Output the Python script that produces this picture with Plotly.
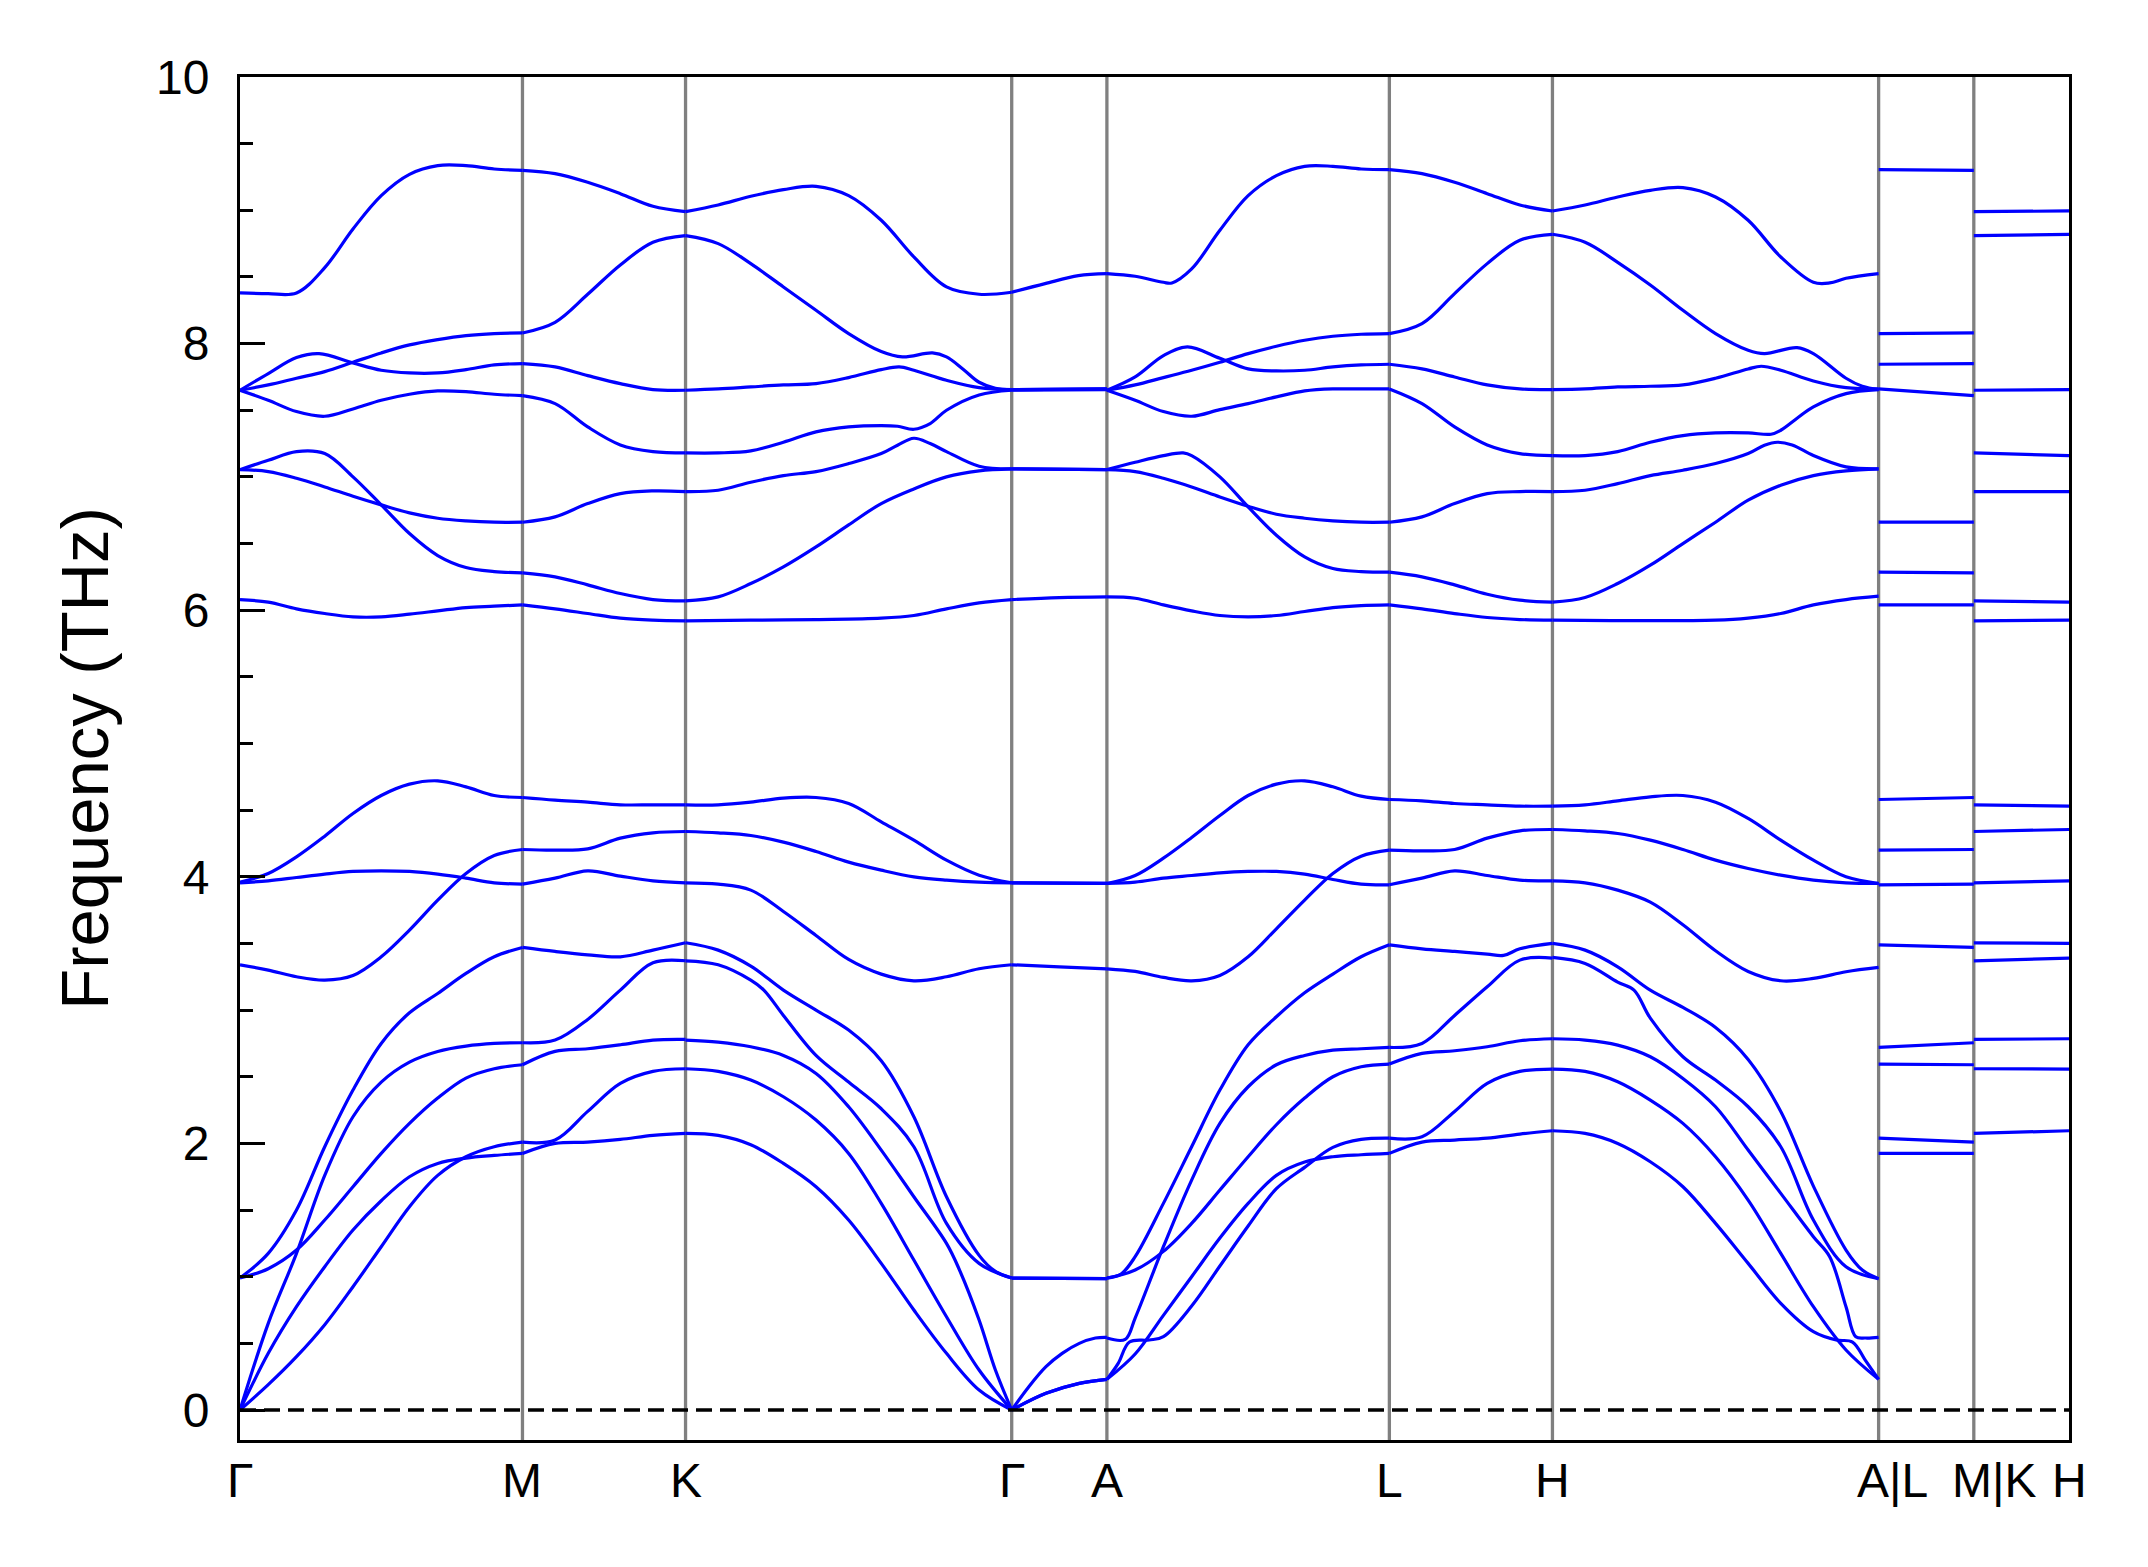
import plotly.graph_objects as go

# ---------------- k-path ----------------
PATH_LABELS = ["Γ", "M", "K", "Γ", "A", "L", "H", "A|L", "M|K", "H"]
# small horizontal nudges of the crowded right-hand labels (px)
LABEL_SHIFT = [0, 0, 0, 0, 0, 0, 0, 14, 20, 0]
# segment lengths (reciprocal-space distance, Γ-M = 1)
SEG_NAMES = ["Γ-M", "M-K", "K-Γ", "Γ-A", "A-L", "L-H", "H-A", "L-M", "K-H"]
SEG_LENGTHS = [1.0, 0.57735, 1.1547, 0.337, 1.0, 0.57735, 1.1547, 0.337, 0.337]

# ---------------- band data: [t along segment, frequency THz] ----------------
GM = [
    [[0, 8.38], [.1, 8.375], [.2, 8.38], [.3, 8.57], [.4, 8.86], [.5, 9.11], [.6, 9.27], [.7, 9.335], [.8, 9.335], [.9, 9.31], [1, 9.30]],
    [[0, 7.65], [.1, 7.69], [.2, 7.74], [.3, 7.79], [.4, 7.86], [.5, 7.93], [.6, 7.99], [.7, 8.03], [.8, 8.06], [.9, 8.075], [1, 8.08]],
    [[0, 7.65], [.1, 7.775], [.2, 7.895], [.28, 7.925], [.4, 7.855], [.5, 7.80], [.6, 7.78], [.7, 7.78], [.8, 7.805], [.9, 7.84], [1, 7.85]],
    [[0, 7.65], [.1, 7.575], [.2, 7.49], [.3, 7.455], [.4, 7.51], [.5, 7.575], [.6, 7.62], [.7, 7.645], [.8, 7.64], [.9, 7.62], [1, 7.61]],
    [[0, 7.055], [.1, 7.125], [.2, 7.19], [.3, 7.175], [.4, 7.0], [.5, 6.79], [.6, 6.575], [.7, 6.41], [.8, 6.32], [.9, 6.29], [1, 6.28]],
    [[0, 7.055], [.1, 7.04], [.2, 6.99], [.3, 6.925], [.4, 6.855], [.5, 6.79], [.6, 6.73], [.7, 6.69], [.8, 6.67], [.9, 6.66], [1, 6.66]],
    [[0, 6.08], [.1, 6.06], [.2, 6.01], [.3, 5.975], [.4, 5.95], [.5, 5.95], [.6, 5.97], [.7, 5.995], [.8, 6.02], [.9, 6.03], [1, 6.04]],
    [[0, 3.96], [.1, 4.025], [.2, 4.15], [.3, 4.305], [.4, 4.475], [.5, 4.61], [.6, 4.695], [.7, 4.72], [.8, 4.675], [.9, 4.61], [1, 4.595]],
    [[0, 3.955], [.1, 3.97], [.2, 3.995], [.3, 4.02], [.4, 4.04], [.5, 4.045], [.6, 4.04], [.7, 4.02], [.8, 3.99], [.9, 3.955], [1, 3.945]],
    [[0, 3.34], [.1, 3.30], [.2, 3.25], [.3, 3.225], [.4, 3.26], [.5, 3.40], [.6, 3.60], [.7, 3.825], [.8, 4.025], [.9, 4.16], [1, 4.205]],
    [[0, 0.99], [.1, 1.175], [.2, 1.5], [.3, 1.975], [.4, 2.4], [.5, 2.75], [.6, 2.98], [.7, 3.125], [.8, 3.275], [.9, 3.40], [1, 3.47]],
    [[0, 0.99], [.1, 1.06], [.2, 1.2], [.3, 1.425], [.4, 1.675], [.5, 1.925], [.6, 2.15], [.7, 2.34], [.8, 2.49], [.9, 2.56], [1, 2.59]],
    [[0, 0.0], [.1, 0.65], [.2, 1.175], [.3, 1.76], [.4, 2.2], [.5, 2.46], [.6, 2.61], [.7, 2.69], [.8, 2.73], [.9, 2.75], [1, 2.755]],
    [[0, 0.0], [.1, 0.425], [.2, 0.775], [.3, 1.075], [.4, 1.35], [.5, 1.57], [.6, 1.75], [.7, 1.85], [.8, 1.89], [.9, 1.91], [1, 1.925]],
    [[0, 0.0], [.1, 0.19], [.2, 0.4], [.3, 0.64], [.4, 0.925], [.5, 1.225], [.6, 1.525], [.7, 1.76], [.8, 1.9], [.9, 1.975], [1, 2.01]],
]

MK = [
    [[0, 9.30], [.2, 9.275], [.4, 9.21], [.6, 9.125], [.8, 9.03], [1, 8.99]],
    [[0, 8.08], [.2, 8.16], [.4, 8.37], [.6, 8.59], [.8, 8.76], [1, 8.81]],
    [[0, 7.85], [.2, 7.825], [.4, 7.76], [.6, 7.70], [.8, 7.655], [1, 7.65]],
    [[0, 7.61], [.2, 7.55], [.4, 7.375], [.6, 7.24], [.8, 7.19], [1, 7.18]],
    [[0, 6.28], [.2, 6.25], [.4, 6.19], [.6, 6.125], [.8, 6.08], [1, 6.07]],
    [[0, 6.66], [.2, 6.70], [.4, 6.80], [.6, 6.875], [.8, 6.895], [1, 6.89]],
    [[0, 6.04], [.2, 6.01], [.4, 5.975], [.6, 5.94], [.8, 5.925], [1, 5.92]],
    [[0, 4.595], [.2, 4.575], [.4, 4.56], [.6, 4.54], [.8, 4.54], [1, 4.54]],
    [[0, 3.945], [.2, 3.99], [.4, 4.045], [.6, 4.005], [.8, 3.97], [1, 3.955]],
    [[0, 4.205], [.2, 4.2], [.4, 4.21], [.6, 4.29], [.8, 4.33], [1, 4.34]],
    [[0, 3.47], [.2, 3.44], [.4, 3.415], [.6, 3.40], [.8, 3.45], [1, 3.505]],
    [[0, 2.59], [.2, 2.69], [.4, 2.71], [.6, 2.74], [.8, 2.775], [1, 2.78]],
    [[0, 2.755], [.2, 2.775], [.4, 2.93], [.6, 3.15], [.8, 3.355], [1, 3.37]],
    [[0, 1.925], [.2, 2.0], [.4, 2.01], [.6, 2.03], [.8, 2.06], [1, 2.075]],
    [[0, 2.01], [.2, 2.025], [.4, 2.24], [.6, 2.45], [.8, 2.54], [1, 2.56]],
]

KG = [
    [[0, 8.99], [.1, 9.04], [.2, 9.105], [.3, 9.155], [.4, 9.18], [.5, 9.11], [.6, 8.925], [.7, 8.65], [.8, 8.425], [.9, 8.37], [1, 8.385]],
    [[0, 8.81], [.1, 8.75], [.2, 8.60], [.3, 8.425], [.4, 8.25], [.5, 8.075], [.6, 7.94], [.665, 7.90], [.757, 7.93], [.8, 7.90], [.85, 7.81], [.9, 7.71], [.95, 7.665], [1, 7.655]],
    [[0, 7.65], [.1, 7.66], [.2, 7.675], [.3, 7.69], [.4, 7.70], [.5, 7.745], [.6, 7.805], [.655, 7.825], [.7, 7.80], [.8, 7.725], [.9, 7.67], [1, 7.655]],
    [[0, 7.18], [.1, 7.18], [.2, 7.195], [.3, 7.26], [.4, 7.3375], [.5, 7.375], [.6, 7.385], [.65, 7.38], [.7, 7.3575], [.75, 7.40], [.8, 7.50], [.9, 7.615], [1, 7.65]],
    [[0, 6.07], [.1, 6.10], [.2, 6.20], [.3, 6.325], [.4, 6.475], [.5, 6.64], [.6, 6.80], [.7, 6.91], [.8, 7.0], [.9, 7.045], [1, 7.06]],
    [[0, 6.89], [.1, 6.90], [.2, 6.96], [.3, 7.01], [.4, 7.04], [.5, 7.10], [.6, 7.175], [.65, 7.2375], [.7, 7.29], [.75, 7.25], [.8, 7.19], [.9, 7.08], [1, 7.06]],
    [[0, 5.92], [.2, 5.925], [.4, 5.93], [.6, 5.94], [.7, 5.96], [.8, 6.01], [.9, 6.055], [1, 6.08]],
    [[0, 4.54], [.1, 4.54], [.2, 4.56], [.3, 4.59], [.4, 4.595], [.5, 4.55], [.6, 4.4125], [.7, 4.275], [.8, 4.125], [.9, 4.0125], [1, 3.955]],
    [[0, 3.955], [.1, 3.945], [.2, 3.90], [.3, 3.74], [.4, 3.56], [.5, 3.38], [.6, 3.27], [.7, 3.22], [.8, 3.25], [.9, 3.31], [1, 3.34]],
    [[0, 4.34], [.1, 4.33], [.2, 4.31], [.3, 4.26], [.4, 4.19], [.5, 4.11], [.6, 4.05], [.7, 4.0], [.8, 3.975], [.9, 3.96], [1, 3.955]],
    [[0, 3.505], [.1, 3.45], [.2, 3.33], [.3, 3.15], [.4, 3.0], [.5, 2.85], [.6, 2.62], [.7, 2.2], [.8, 1.6], [.9, 1.16], [.95, 1.04], [1, 0.99]],
    [[0, 2.775], [.1, 2.76], [.2, 2.725], [.3, 2.66], [.4, 2.525], [.5, 2.275], [.6, 1.95], [.7, 1.6], [.8, 1.25], [.84, 1.05], [.9, 0.675], [.95, 0.3], [1, 0.0]],
    [[0, 3.37], [.1, 3.34], [.2, 3.225], [.24, 3.15], [.3, 2.96], [.4, 2.66], [.5, 2.46], [.6, 2.26], [.7, 1.975], [.8, 1.4], [.9, 1.1], [1, 0.99]],
    [[0, 2.075], [.1, 2.06], [.2, 1.99], [.3, 1.85], [.4, 1.675], [.5, 1.425], [.6, 1.1], [.7, 0.75], [.8, 0.425], [.9, 0.15], [1, 0.0]],
    [[0, 2.56], [.1, 2.54], [.2, 2.475], [.3, 2.35], [.4, 2.175], [.5, 1.925], [.6, 1.55], [.7, 1.125], [.8, 0.7], [.9, 0.3], [1, 0.0]],
]

GA = [
    [[0, 8.385], [.35, 8.45], [.7, 8.51], [1, 8.525]],
    [[0, 7.655], [1, 7.66]],
    [[0, 7.655], [1, 7.66]],
    [[0, 7.65], [1, 7.655]],
    [[0, 7.06], [1, 7.055]],
    [[0, 7.06], [1, 7.055]],
    [[0, 6.08], [.5, 6.095], [1, 6.10]],
    [[0, 3.955], [1, 3.95]],
    [[0, 3.34], [.5, 3.325], [1, 3.31]],
    [[0, 3.955], [1, 3.95]],
    [[0, 0.99], [1, 0.985]],
    [[0, 0.0], [.18, 0.175], [.36, 0.325], [.53, 0.425], [.71, 0.5], [.88, 0.54], [1, 0.545]],
    [[0, 0.99], [1, 0.985]],
    [[0, 0.0], [.36, 0.125], [.71, 0.2], [1, 0.23]],
    [[0, 0.0], [.36, 0.125], [.71, 0.2], [1, 0.23]],
]

AL = [
    [[0, 8.525], [.1, 8.505], [.2, 8.46], [.23, 8.455], [.3, 8.56], [.4, 8.85], [.5, 9.11], [.6, 9.26], [.7, 9.33], [.8, 9.33], [.9, 9.31], [1, 9.305]],
    [[0, 7.65], [.1, 7.69], [.2, 7.745], [.3, 7.80], [.4, 7.86], [.5, 7.925], [.6, 7.98], [.7, 8.025], [.8, 8.055], [.9, 8.07], [1, 8.075]],
    [[0, 7.65], [.1, 7.75], [.2, 7.91], [.285, 7.975], [.4, 7.89], [.5, 7.81], [.6, 7.795], [.7, 7.80], [.8, 7.825], [.9, 7.84], [1, 7.845]],
    [[0, 7.65], [.1, 7.575], [.2, 7.49], [.3, 7.455], [.4, 7.505], [.5, 7.55], [.6, 7.60], [.7, 7.645], [.8, 7.66], [.9, 7.66], [1, 7.66]],
    [[0, 7.055], [.1, 7.11], [.2, 7.16], [.27, 7.18], [.3, 7.16], [.4, 7.0], [.5, 6.775], [.6, 6.5625], [.7, 6.40], [.8, 6.3125], [.9, 6.29], [1, 6.285]],
    [[0, 7.055], [.1, 7.04], [.2, 6.99], [.3, 6.925], [.4, 6.85], [.5, 6.78], [.6, 6.72], [.7, 6.69], [.8, 6.67], [.9, 6.66], [1, 6.66]],
    [[0, 6.10], [.1, 6.09], [.2, 6.04], [.3, 5.995], [.4, 5.96], [.5, 5.95], [.6, 5.96], [.7, 5.99], [.8, 6.02], [.9, 6.035], [1, 6.04]],
    [[0, 3.95], [.1, 4.01], [.2, 4.14], [.3, 4.295], [.4, 4.46], [.5, 4.61], [.6, 4.695], [.7, 4.72], [.8, 4.675], [.9, 4.605], [1, 4.58]],
    [[0, 3.95], [.1, 3.96], [.2, 3.99], [.3, 4.01], [.4, 4.03], [.5, 4.04], [.6, 4.04], [.7, 4.02], [.8, 3.98], [.9, 3.945], [1, 3.94]],
    [[0, 3.31], [.1, 3.29], [.2, 3.245], [.3, 3.22], [.4, 3.26], [.5, 3.40], [.6, 3.61], [.7, 3.825], [.8, 4.025], [.9, 4.155], [1, 4.20]],
    [[0, 0.99], [.05, 1.02], [.1, 1.15], [.2, 1.55], [.3, 1.975], [.4, 2.4], [.5, 2.74], [.6, 2.95], [.7, 3.13], [.8, 3.27], [.9, 3.40], [1, 3.49]],
    [[0, 0.99], [.1, 1.05], [.2, 1.19], [.3, 1.40], [.4, 1.65], [.5, 1.90], [.6, 2.14], [.7, 2.34], [.8, 2.50], [.9, 2.575], [1, 2.595]],
    [[0, 0.54], [.065, 0.53], [.1, 0.69], [.2, 1.225], [.3, 1.725], [.4, 2.15], [.5, 2.425], [.6, 2.59], [.7, 2.66], [.8, 2.70], [.9, 2.71], [1, 2.72]],
    [[0, 0.23], [.1, 0.42], [.2, 0.71], [.3, 1.0], [.4, 1.29], [.5, 1.55], [.6, 1.76], [.7, 1.86], [.8, 1.90], [.9, 1.915], [1, 1.925]],
    [[0, 0.23], [.04, 0.35], [.08, 0.51], [.15, 0.525], [.2, 0.55], [.3, 0.78], [.4, 1.08], [.5, 1.38], [.6, 1.66], [.7, 1.82], [.8, 1.97], [.9, 2.03], [1, 2.04]],
]

LH = [
    [[0, 9.305], [.2, 9.275], [.4, 9.21], [.6, 9.125], [.8, 9.04], [1, 8.995]],
    [[0, 8.075], [.2, 8.15], [.4, 8.375], [.6, 8.60], [.8, 8.775], [1, 8.82]],
    [[0, 7.845], [.2, 7.81], [.4, 7.75], [.6, 7.69], [.8, 7.66], [1, 7.655]],
    [[0, 7.66], [.2, 7.55], [.4, 7.375], [.6, 7.24], [.8, 7.175], [1, 7.16]],
    [[0, 6.285], [.2, 6.25], [.4, 6.19], [.6, 6.12], [.8, 6.075], [1, 6.06]],
    [[0, 6.66], [.2, 6.70], [.4, 6.80], [.6, 6.875], [.8, 6.89], [1, 6.89]],
    [[0, 6.04], [.2, 6.01], [.4, 5.975], [.6, 5.945], [.8, 5.93], [1, 5.925]],
    [[0, 4.58], [.2, 4.57], [.4, 4.55], [.6, 4.54], [.8, 4.53], [1, 4.53]],
    [[0, 3.94], [.2, 3.99], [.4, 4.045], [.6, 4.01], [.8, 3.975], [1, 3.97]],
    [[0, 4.20], [.2, 4.195], [.4, 4.205], [.6, 4.29], [.8, 4.345], [1, 4.355]],
    [[0, 3.49], [.2, 3.46], [.4, 3.44], [.6, 3.42], [.7, 3.41], [.8, 3.46], [1, 3.50]],
    [[0, 2.595], [.2, 2.675], [.4, 2.695], [.6, 2.725], [.8, 2.77], [1, 2.785]],
    [[0, 2.72], [.2, 2.75], [.4, 2.96], [.6, 3.175], [.8, 3.375], [1, 3.39]],
    [[0, 1.925], [.2, 2.01], [.4, 2.025], [.6, 2.04], [.8, 2.07], [1, 2.095]],
    [[0, 2.04], [.2, 2.05], [.4, 2.24], [.6, 2.45], [.8, 2.54], [1, 2.5575]],
]

HA = [
    [[0, 8.995], [.1, 9.04], [.2, 9.10], [.3, 9.15], [.4, 9.17], [.5, 9.10], [.6, 8.925], [.7, 8.65], [.8, 8.46], [.85, 8.455], [.9, 8.49], [1, 8.525]],
    [[0, 8.82], [.1, 8.76], [.2, 8.61], [.3, 8.44], [.4, 8.25], [.5, 8.075], [.6, 7.95], [.65, 7.925], [.75, 7.97], [.8, 7.925], [.9, 7.74], [.95, 7.68], [1, 7.655]],
    [[0, 7.655], [.1, 7.66], [.2, 7.675], [.3, 7.68], [.4, 7.69], [.5, 7.74], [.6, 7.81], [.64, 7.83], [.7, 7.80], [.8, 7.72], [.9, 7.67], [1, 7.66]],
    [[0, 7.16], [.1, 7.16], [.2, 7.19], [.3, 7.26], [.4, 7.31], [.5, 7.33], [.6, 7.33], [.67, 7.32], [.7, 7.35], [.75, 7.44], [.8, 7.525], [.9, 7.625], [1, 7.655]],
    [[0, 6.06], [.1, 6.095], [.2, 6.20], [.3, 6.3375], [.4, 6.50], [.5, 6.66], [.6, 6.825], [.7, 6.9375], [.8, 7.01], [.9, 7.045], [1, 7.06]],
    [[0, 6.89], [.1, 6.90], [.2, 6.95], [.3, 7.01], [.4, 7.05], [.5, 7.10], [.6, 7.175], [.65, 7.2375], [.69, 7.26], [.735, 7.24], [.8, 7.16], [.9, 7.075], [1, 7.06]],
    [[0, 5.925], [.5, 5.925], [.6, 5.94], [.7, 5.975], [.8, 6.04], [.9, 6.08], [1, 6.105]],
    [[0, 4.53], [.1, 4.54], [.2, 4.57], [.3, 4.60], [.4, 4.61], [.5, 4.56], [.6, 4.4375], [.7, 4.275], [.8, 4.125], [.9, 4.0], [1, 3.95]],
    [[0, 3.97], [.1, 3.955], [.2, 3.90], [.3, 3.81], [.4, 3.64], [.5, 3.445], [.6, 3.29], [.7, 3.22], [.8, 3.2375], [.9, 3.2875], [1, 3.32]],
    [[0, 4.355], [.1, 4.345], [.2, 4.325], [.3, 4.275], [.4, 4.205], [.5, 4.125], [.6, 4.0625], [.7, 4.0125], [.8, 3.975], [.9, 3.955], [1, 3.95]],
    [[0, 3.50], [.1, 3.45], [.2, 3.325], [.3, 3.15], [.4, 3.02], [.5, 2.87], [.6, 2.63], [.7, 2.24], [.8, 1.68], [.9, 1.2], [.95, 1.05], [1, 0.985]],
    [[0, 2.785], [.1, 2.775], [.2, 2.7375], [.3, 2.65], [.4, 2.4875], [.5, 2.275], [.6, 1.95], [.7, 1.625], [.8, 1.30], [.85, 1.15], [.9, 0.775], [.93, 0.55], [.96, 0.54], [1, 0.545]],
    [[0, 3.395], [.1, 3.35], [.2, 3.21], [.25, 3.15], [.3, 2.94], [.4, 2.65], [.5, 2.475], [.6, 2.275], [.7, 1.975], [.8, 1.425], [.9, 1.075], [1, 0.985]],
    [[0, 2.095], [.1, 2.075], [.2, 2.0], [.3, 1.8625], [.4, 1.675], [.5, 1.40], [.6, 1.10], [.7, 0.80], [.8, 0.5875], [.87, 0.525], [.92, 0.51], [.96, 0.37], [1, 0.23]],
    [[0, 2.5575], [.1, 2.54], [.2, 2.4625], [.3, 2.325], [.4, 2.15], [.5, 1.90], [.6, 1.575], [.7, 1.175], [.8, 0.775], [.9, 0.45], [1, 0.23]],
]

LM = [
    [[0, 9.305], [1, 9.30]], [[0, 8.075], [1, 8.08]], [[0, 7.845], [1, 7.85]],
    [[0, 7.66], [1, 7.61]], [[0, 6.285], [1, 6.28]], [[0, 6.66], [1, 6.66]],
    [[0, 6.04], [1, 6.04]], [[0, 4.58], [1, 4.595]], [[0, 3.94], [1, 3.945]],
    [[0, 4.20], [1, 4.205]], [[0, 3.49], [1, 3.47]], [[0, 2.595], [1, 2.59]],
    [[0, 2.72], [1, 2.755]], [[0, 1.925], [1, 1.925]], [[0, 2.04], [1, 2.01]],
]

KH = [
    [[0, 8.99], [1, 8.995]], [[0, 8.81], [1, 8.82]], [[0, 7.65], [1, 7.655]],
    [[0, 7.18], [1, 7.16]], [[0, 6.07], [1, 6.06]], [[0, 6.89], [1, 6.89]],
    [[0, 5.92], [1, 5.925]], [[0, 4.54], [1, 4.53]], [[0, 3.955], [1, 3.97]],
    [[0, 4.34], [1, 4.355]], [[0, 3.505], [1, 3.50]], [[0, 2.78], [1, 2.785]],
    [[0, 3.37], [1, 3.39]], [[0, 2.075], [1, 2.095]], [[0, 2.56], [1, 2.5575]],
]

SEGMENTS = [GM, MK, KG, GA, AL, LH, HA, LM, KH]

# ---------------- figure ----------------
nodes = [0.0]
for L in SEG_LENGTHS:
    nodes.append(nodes[-1] + L)
seg_starts = nodes[:-1]
total = nodes[-1]

fig = go.Figure()
for seg, x0, L in zip(SEGMENTS, seg_starts, SEG_LENGTHS):
    for band in seg:
        xs = [x0 + p[0] * L for p in band]
        ys = [p[1] for p in band]
        fig.add_trace(go.Scatter(
            x=xs, y=ys, mode="lines",
            line=dict(color="#0000ff", width=3.2, shape="spline", smoothing=1.0),
            hoverinfo="skip", showlegend=False))

shapes = []
for xv in nodes[1:-1]:
    shapes.append(dict(type="line", xref="x", yref="paper", x0=xv, x1=xv, y0=0, y1=1,
                       line=dict(color="#808080", width=3.3), layer="below"))
shapes.append(dict(type="line", xref="x", yref="y", x0=0, x1=total, y0=0, y1=0,
                   line=dict(color="black", width=3.3, dash="16px,8px"), layer="above"))

FONT = "Liberation Sans, Arial, sans-serif"

annotations = []
for xv, lab, dx in zip(nodes, PATH_LABELS, LABEL_SHIFT):
    annotations.append(dict(x=xv, y=0, xref="x", yref="paper", text=lab, showarrow=False,
                            xanchor="center", yanchor="top", xshift=dx, yshift=-13,
                            borderpad=0, font=dict(size=48, family=FONT, color="black")))

fig.update_layout(
    width=2148, height=1567,
    margin=dict(l=232, r=87, t=69, b=135, autoexpand=False),
    paper_bgcolor="white", plot_bgcolor="white",
    shapes=shapes, annotations=annotations,
    font=dict(family=FONT, color="black"),
    xaxis=dict(
        range=[0, total], showgrid=False, zeroline=False,
        showline=True, mirror=True, linecolor="black", linewidth=3,
        tickmode="array", tickvals=nodes, showticklabels=False, ticks="",
    ),
    yaxis=dict(
        range=[-0.225, 10], showgrid=False, zeroline=False,
        showline=True, mirror=True, linecolor="black", linewidth=3,
        tickmode="array", tickvals=[0, 2, 4, 6, 8, 10],
        ticks="inside", ticklen=25, tickwidth=3, tickcolor="black",
        minor=dict(ticks="inside", ticklen=13, tickwidth=3, tickcolor="black", dtick=0.5, tick0=0),
        tickfont=dict(size=48, family=FONT, color="black"),
        ticklabelstandoff=18,
        title=dict(text="Frequency (THz)", font=dict(size=67, family=FONT, color="black"), standoff=26),
    ),
)

fig.write_html("out.html")
